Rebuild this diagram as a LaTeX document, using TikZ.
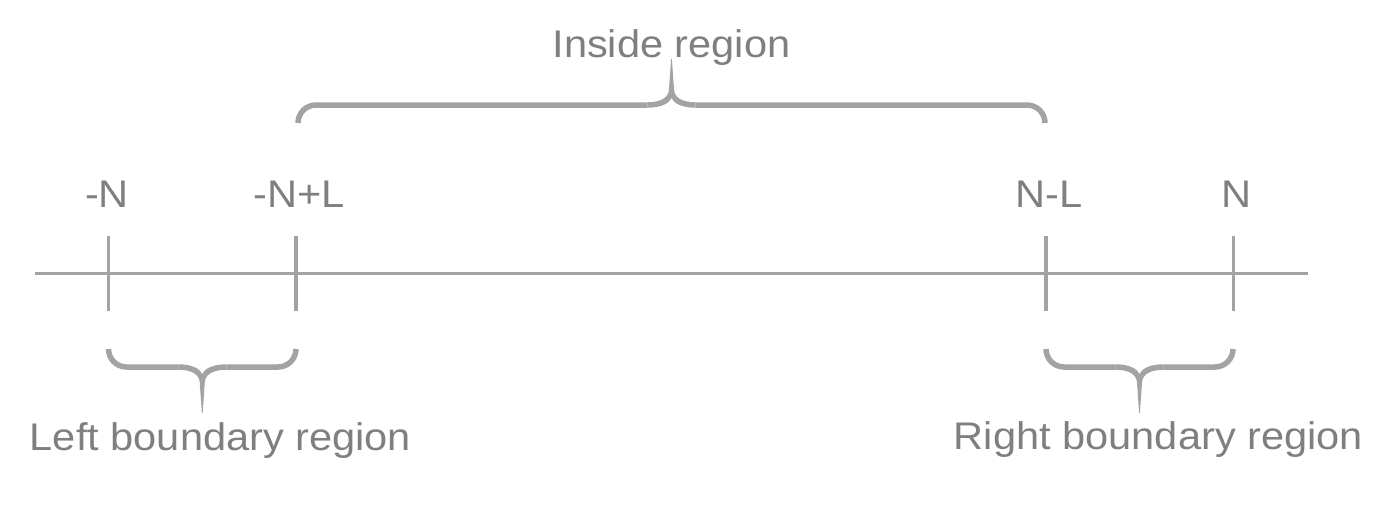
\documentclass[tikz,border=0pt]{standalone}
\usepackage{fontspec}
\setmainfont{Liberation Sans}[FakeStretch=1.08]
\usepackage{tikz}
\usetikzlibrary{positioning}
\definecolor{txtgray}{HTML}{7F7F7F}
\definecolor{linegray}{HTML}{A3A3A3}
\newcommand\bracethick{2.75}
\newcommand\bracetip{46}
\tikzset{
    axis/.style = {draw=linegray, line width=3pt},
    tick/.style = {draw=linegray, line width=#1},
    tick/.default = 3pt,
    bracket/.style = {draw=linegray, line width=5.5pt, rounded corners=18pt},
    ticklabel/.style = {anchor=base, inner sep=0pt, text=txtgray, font=\fontsize{38.5}{46}\selectfont},
    regionlabel/.style = {ticklabel},
}
% #1,#2: x of the ends, #3: y of the ends, #4: 1 tip down, -1 tip up
\newcommand\regionbrace[4]{%
    \pgfmathsetmacro\bmid{(#1+#2)/2}
    \pgfmathsetmacro\bline{#3+(#4)*18}
    \draw[bracket] (#1,#3) -- (#1,\bline) -- ({\bmid-24},\bline);
    \draw[bracket] (#2,#3) -- (#2,\bline) -- ({\bmid+24},\bline);
    \fill[linegray] ({\bmid-24},{\bline-(#4)*\bracethick})
        .. controls ({\bmid-10},{\bline-(#4)*\bracethick}) and ({\bmid-2},{\bline+(#4)*2}) .. (\bmid,{\bline+(#4)*7})
        .. controls ({\bmid+2},{\bline+(#4)*2}) and ({\bmid+10},{\bline-(#4)*\bracethick}) .. ({\bmid+24},{\bline-(#4)*\bracethick})
        -- ({\bmid+24},{\bline+(#4)*\bracethick})
        .. controls ({\bmid+10},{\bline+(#4)*\bracethick}) and ({\bmid+2.5},{\bline+(#4)*8}) .. ({\bmid+2.5},{\bline+(#4)*16})
        -- ({\bmid+0.4},{\bline+(#4)*\bracetip}) -- ({\bmid-0.4},{\bline+(#4)*\bracetip})
        -- ({\bmid-2.5},{\bline+(#4)*16})
        .. controls ({\bmid-2.5},{\bline+(#4)*8}) and ({\bmid-10},{\bline+(#4)*\bracethick}) .. ({\bmid-24},{\bline+(#4)*\bracethick})
        -- cycle;
}
\begin{document}
\begin{tikzpicture}[x=1pt,y=-1pt]
    \useasboundingbox (0,0) rectangle (1389,512);
    \coordinate (start) at (35,273.5);
    \coordinate (end) at (1308,273.5);
    \draw[axis] (start) -- (end);
    \foreach \x/\w in {108.5/3pt, 296/4pt, 1046/4pt, 1233/3pt}
        \draw[tick=\w] (\x,236) -- (\x,311);
    \node[ticklabel] (mN) at (107,207) {-N};
    \node[ticklabel] (mNL) at (299,207) {-N+L};
    \node[ticklabel] (NmL) at (1049,207) {N-L};
    \node[ticklabel] (N) at (1236,207) {N};
    \regionbrace{298}{1045}{123}{-1}
    \regionbrace{108.5}{296}{349}{1}
    \regionbrace{1046}{1233}{349}{1}
    \node[regionlabel] (inside) at (671.5,57) {Inside region};
    \node[regionlabel] (left) at (220.5,450) {Left boundary region};
    \node[regionlabel] (right) at (1158.5,449) {Right boundary region};
\end{tikzpicture}
\end{document}
